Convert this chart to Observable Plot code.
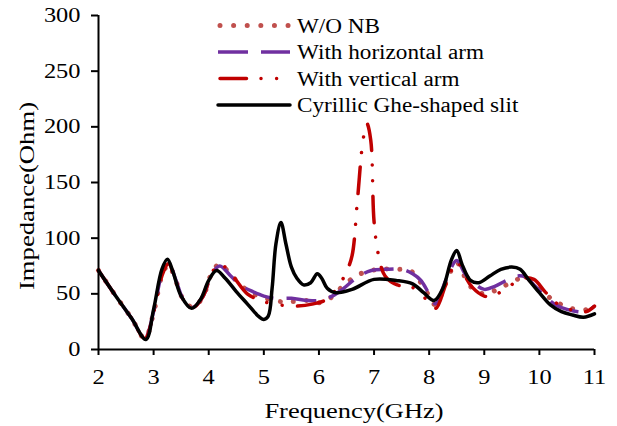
<!DOCTYPE html>
<html>
<head>
<meta charset="utf-8">
<script src="https://cdn.jsdelivr.net/npm/d3@7"></script>
<script src="https://cdn.jsdelivr.net/npm/@observablehq/plot@0.6"></script>
<style>
  html, body { margin: 0; padding: 0; background: #fff; }
  #wrap { position: relative; width: 617px; height: 426px; background: #fff; }
  #legend { position: absolute; left: 0; top: 0; }
</style>
</head>
<body>
<div id="wrap"></div>
<script>
// ---------------- data ----------------
const seriesNames = ["W/O NB", "With horizontal arm", "With vertical arm", "Cyrillic Ghe-shaped slit"];
const xTitle = "Frequency(GHz)";
const yTitle = "Impedance(Ohm)";
const xTicks = [2, 3, 4, 5, 6, 7, 8, 9, 10, 11];
const yTicks = [0, 50, 100, 150, 200, 250, 300];

const freqWO = [2.0, 2.3, 2.6, 2.84, 3.0, 3.15, 3.27, 3.4, 3.55, 3.72, 3.9, 4.05, 4.2, 4.35, 4.5, 4.7, 4.9, 5.1, 5.3, 5.5, 5.8, 6.0, 6.2, 6.5, 6.8, 7.1, 7.4, 7.65, 7.85, 8.0, 8.12, 8.3, 8.5, 8.65, 8.8, 9.0, 9.2, 9.4, 9.6, 9.75, 9.9, 10.1, 10.3, 10.5, 10.7, 10.9, 11.0];
const impWO  = [71, 49, 28, 10, 33, 66, 76, 62, 44, 38, 48, 68, 77, 70, 62, 53, 48, 45, 43, 43, 44, 42, 46, 60, 69, 72, 72, 71, 60, 48, 40, 60, 78, 65, 54, 50, 53, 58, 63, 64, 60, 50, 43, 38, 36, 36, 38];

const freqH = [2.0, 2.3, 2.6, 2.84, 3.0, 3.15, 3.27, 3.4, 3.55, 3.72, 3.9, 4.05, 4.2, 4.4, 4.6, 4.8, 5.0, 5.2, 5.5, 5.8, 6.0, 6.2, 6.4, 6.7, 6.95, 7.2, 7.5, 7.7, 7.85, 8.0, 8.12, 8.3, 8.5, 8.65, 8.8, 9.0, 9.2, 9.4, 9.6, 9.75, 9.9, 10.1, 10.3, 10.5, 10.7, 10.85, 11.0];
const impH  = [71, 49, 28, 10, 34, 68, 78, 63, 44, 38, 48, 67, 75, 66, 57, 52, 48, 46, 46, 44, 44, 47, 53, 65, 71, 72, 72, 68, 62, 50, 41, 62, 80, 68, 60, 54, 57, 62, 66, 65, 58, 48, 40, 36, 34, 34, 39];

const freqV = [2.0, 2.3, 2.6, 2.84, 3.0, 3.15, 3.27, 3.4, 3.55, 3.72, 3.9, 4.05, 4.2, 4.45, 4.7, 5.0, 5.3, 5.6, 5.9, 6.1, 6.33, 6.5, 6.6, 6.7, 6.8, 6.87, 6.94, 7.0, 7.08, 7.2, 7.42, 7.65, 7.85, 8.0, 8.12, 8.3, 8.5, 8.65, 8.78, 9.0, 9.15, 9.4, 9.7, 9.9, 10.1, 10.3, 10.5, 10.7, 10.85, 11.0];
const impV  = [71, 49, 28, 10, 33, 66, 77, 62, 44, 38, 48, 68, 77, 65, 50, 43, 40, 39, 41, 44, 55, 70, 84, 135, 188, 203, 188, 115, 85, 66, 58, 57, 50, 42, 37, 58, 79, 66, 56, 48, 48, 55, 64, 63, 52, 42, 37, 34, 34, 39];

const freqGhe = [2.0, 2.3, 2.6, 2.86, 3.0, 3.15, 3.25, 3.35, 3.5, 3.69, 3.85, 4.0, 4.14, 4.3, 4.5, 4.7, 4.9, 5.0, 5.08, 5.15, 5.22, 5.31, 5.4, 5.5, 5.6, 5.72, 5.85, 5.97, 6.05, 6.15, 6.3, 6.6, 7.0, 7.4, 7.7, 7.9, 8.09, 8.25, 8.4, 8.5, 8.6, 8.75, 8.9, 9.1, 9.3, 9.5, 9.65, 9.8, 10.0, 10.2, 10.4, 10.6, 10.8, 11.0];
const impGhe  = [71, 49, 28, 9, 36, 72, 81, 70, 48, 37, 45, 62, 71, 64, 52, 41, 30, 27, 30, 55, 95, 114, 95, 74, 64, 58, 60, 68, 64, 55, 51, 54, 63, 62, 59, 51, 44, 55, 80, 89, 76, 62, 60, 66, 72, 74, 72, 63, 51, 40, 34, 31, 29, 32];

const colors = ["#c0504d", "#7030a0", "#c00000", "#000000"];

// ---------------- build tables ----------------
const toRows = (fs, vs, name) => fs.map((f, i) => ({freq: f, imp: vs[i], series: name}));
const rowsWO = toRows(freqWO, impWO, seriesNames[0]);
const rowsH = toRows(freqH, impH, seriesNames[1]);
const rowsV = toRows(freqV, impV, seriesNames[2]);
const rowsG = toRows(freqGhe, impGhe, seriesNames[3]);

const styles = [
  {stroke: colors[0], strokeWidth: 5, strokeDasharray: "0.01 13", strokeLinecap: "round"},
  {stroke: colors[1], strokeWidth: 3.5, strokeDasharray: "30 13", strokeLinecap: "butt"},
  {stroke: colors[2], strokeWidth: 3.5, strokeDasharray: "26.5 14.5 0.01 15.6 0.01 15.4", strokeLinecap: "round"},
  {stroke: colors[3], strokeWidth: 3.5, strokeLinecap: "round"}
];

const FONT = "'Liberation Serif', 'Times New Roman', serif";
const chart = Plot.plot({
  width: 617,
  height: 426,
  marginLeft: 98,
  marginRight: 23,
  marginTop: 15,
  marginBottom: 77,
  style: {fontFamily: FONT, fontSize: "20px", background: "white", color: "black", overflow: "visible"},
  x: {domain: [2, 11], ticks: xTicks, tickFormat: d => String(d), tickSize: 6, tickPadding: 14, label: null},
  y: {domain: [0, 300], ticks: yTicks, tickFormat: d => String(d), tickSize: 7, tickPadding: 11, label: null},
  marks: [
    Plot.line(rowsWO, {x: "freq", y: "imp", curve: "catmull-rom", ...styles[0]}),
    Plot.line(rowsH, {x: "freq", y: "imp", curve: "catmull-rom", ...styles[1]}),
    Plot.line(rowsV, {x: "freq", y: "imp", curve: "catmull-rom", ...styles[2]}),
    Plot.line(rowsG, {x: "freq", y: "imp", curve: "catmull-rom", ...styles[3]}),
    Plot.ruleY([0], {stroke: "black", strokeWidth: 2}),
    Plot.ruleX([2], {stroke: "black", strokeWidth: 2})
  ]
});

const wrap = document.getElementById("wrap");
wrap.appendChild(chart);

// thicker tick marks
d3.select(chart).selectAll("g[aria-label$='tick'] path, g.tick line").attr("stroke-width", 2);

// horizontally stretch glyphs (reference text is wide)
function stretch(sel, s) {
  sel.each(function() {
    const el = this;
    const x = parseFloat(el.getAttribute("x")) || 0;
    const t = el.getAttribute("transform") || "";
    el.setAttribute("transform", `${t} translate(${x},0) scale(${s},1) translate(${-x},0)`);
  });
}
stretch(d3.select(chart).selectAll("text"), 1.22);

// axis titles
const svg = d3.select(chart);
const xt = svg.append("text").attr("text-anchor", "middle").attr("font-size", 21)
  .attr("fill", "black").attr("x", 354).attr("y", 418).text(xTitle);
const yt = svg.append("text").attr("text-anchor", "middle").attr("font-size", 21)
  .attr("fill", "black").attr("transform", "translate(34,196) rotate(-90)").text(yTitle);
stretch(xt, 1.26);
stretch(yt, 1.27);

// ---------------- legend ----------------
const lg = d3.select(wrap).append("svg")
  .attr("id", "legend").attr("width", 617).attr("height", 130)
  .style("font-family", FONT).style("font-size", "20px");
const rowY = [25.5, 52, 78.5, 105];
const x0 = 218, x1 = 290, tx = 297;
seriesNames.forEach((name, i) => {
  const st = styles[i];
  const ln = lg.append("line")
    .attr("x1", x0).attr("x2", x1).attr("y1", rowY[i]).attr("y2", rowY[i])
    .attr("stroke", st.stroke).attr("stroke-width", st.strokeWidth)
    .attr("stroke-linecap", st.strokeLinecap);
  if (i === 0) ln.attr("x1", x0 + 2).attr("stroke-dasharray", "0.01 13.6");
  else if (st.strokeDasharray) ln.attr("stroke-dasharray", st.strokeDasharray);
  if (i === 2) ln.attr("x1", x0 + 2);
  lg.append("text").attr("x", tx).attr("y", rowY[i] + 7.5).attr("fill", "black").text(name);
});
stretch(lg.selectAll("text"), 1.16);
</script>
</body>
</html>
